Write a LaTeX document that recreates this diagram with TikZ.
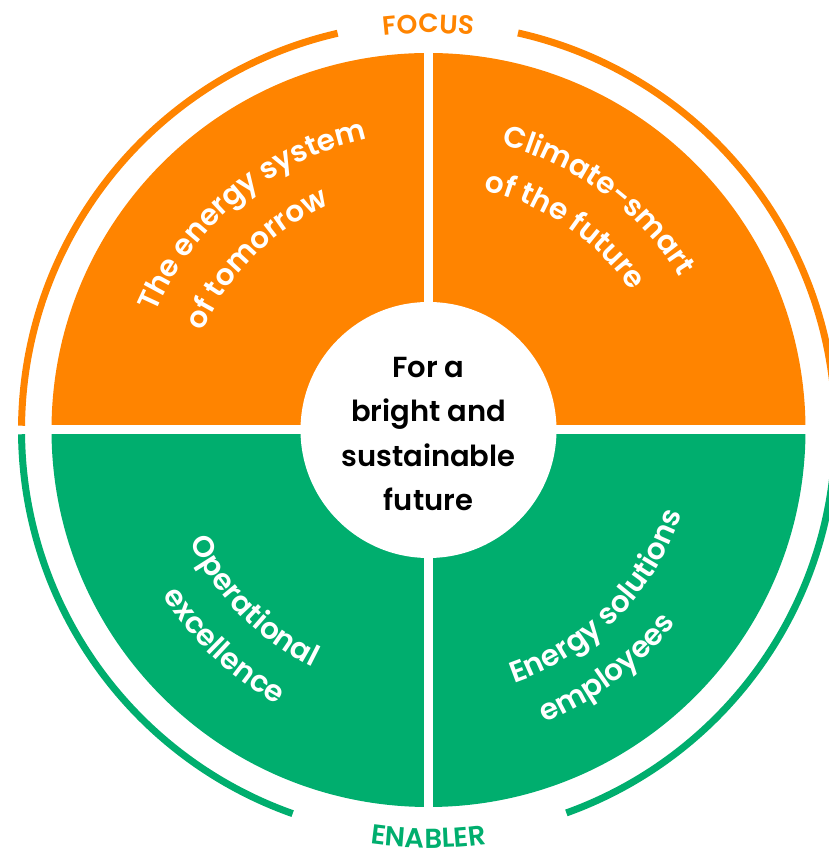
\documentclass[tikz,border=0pt]{standalone}
\usepackage{fontspec}
\newfontfamily\fut{Poppins SemiBold}
\usetikzlibrary{decorations.text}
\definecolor{eorange}{RGB}{255,132,0}
\definecolor{egreen}{RGB}{0,174,110}
\newcommand\qtxtfont{\fut\fontsize{29.5}{36}\selectfont}
\tikzset{
  ring/.style={line width=7pt},
  arctext/.style={decorate, decoration={text along path, text align=center, text color=white, text={|\qtxtfont|#1}}},
  lbltext/.style n args={3}{decorate, decoration={text along path, text align=center, text color=#1, text={|\fut\fontsize{#2}{30}\selectfont|#3}}}
}
\begin{document}
\begin{tikzpicture}[x=1pt,y=1pt]
\useasboundingbox (0,0) rectangle (828,853);
\coordinate (C) at (428.5,423);
% quadrants
\fill[eorange] (C) -- ++(0:377) arc[start angle=0,end angle=180,radius=377] -- cycle;
\fill[egreen] (C) -- ++(180:377) arc[start angle=180,end angle=360,radius=377] -- cycle;
\fill[white] (C) ++(-4.5,-390) rectangle ++(9,780);
\fill[white] (C) ++(-390,-4.5) rectangle ++(780,9);
% outer ring
\draw[ring, eorange] (C) ++(0.6:407) arc[start angle=0.6, end angle=77.3, radius=407];
\draw[ring, eorange] (C) ++(102.9:407) arc[start angle=102.9, end angle=179.4, radius=407];
\draw[ring, egreen] (C) ++(180.6:407) arc[start angle=180.6, end angle=250.5, radius=407];
\draw[ring, egreen] (C) ++(289.8:407) arc[start angle=289.8, end angle=359.4, radius=407];
% hub
\node[circle, fill=white, minimum size=256pt, inner sep=0pt] (hub) at (C) {};
\node[align=center, inner sep=0pt, font=\fut\fontsize{29}{44.3}\selectfont] (hubtext)
  at ([yshift=-4pt]hub.center) {For a\\bright and\\sustainable\\future};
% quadrant texts (top: clockwise arcs, bottom: counter-clockwise arcs)
\path[arctext={The energy system}] (C) ++(169.3:297) arc[start angle=169.3, end angle=89.3, radius=297];
\path[arctext={of tomorrow}] (C) ++(175:246) arc[start angle=175, end angle=95, radius=246];
\path[arctext={Climate-smart}] (C) ++(93.5:294) arc[start angle=93.5, end angle=13.5, radius=294];
\path[arctext={of the future}] (C) ++(95.7:246) arc[start angle=95.7, end angle=15.7, radius=246];
\path[arctext={Operational}] (C) ++(184.5:264) arc[start angle=184.5, end angle=264.5, radius=264];
\path[arctext={excellence}] (C) ++(186.5:313) arc[start angle=186.5, end angle=266.5, radius=313];
\path[arctext={Energy solutions}] (C) ++(275.2:267) arc[start angle=275.2, end angle=355.2, radius=267];
\path[arctext={employees}] (C) ++(266.8:314) arc[start angle=266.8, end angle=346.8, radius=314];
% labels
\path[lbltext={eorange}{26.5}{FOCUS}] (C) ++(115:397) arc[start angle=115, end angle=65, radius=397];
\path[lbltext={egreen}{27.5}{ENABLER}] (C) ++(245:418) arc[start angle=245, end angle=295, radius=418];
\end{tikzpicture}
\end{document}
